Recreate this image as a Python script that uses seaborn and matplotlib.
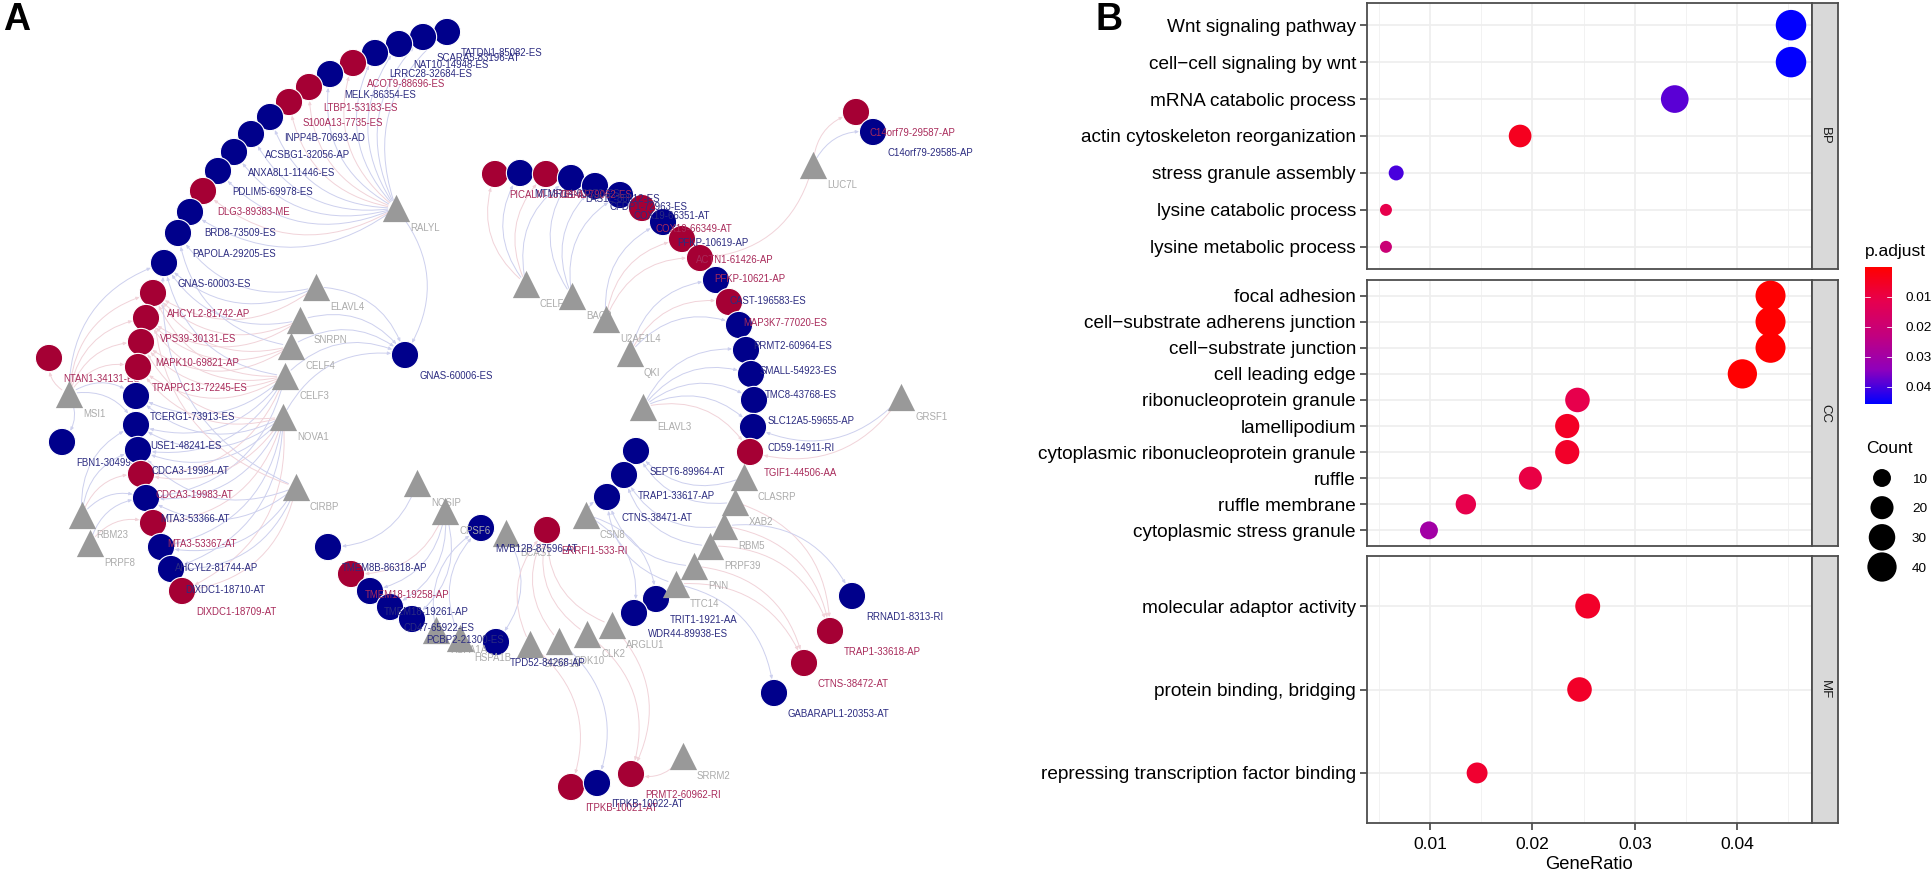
"""Splicing factor network (A) and GO enrichment dot plot (B)."""

import numpy as np
import pandas as pd
import seaborn as sns
import matplotlib.pyplot as plt
from matplotlib.cm import ScalarMappable
from matplotlib.colors import LinearSegmentedColormap, Normalize
from matplotlib.patches import FancyArrowPatch

# ---- panel A: splicing events (layout)
event_names = [
    "TATDN1-85082-ES", "SCARA5-83196-AT", "NAT10-14948-ES", "LRRC28-32684-ES", "ACOT9-88696-ES",
    "MELK-86354-ES", "LTBP1-53183-ES", "S100A13-7735-ES", "INPP4B-70693-AD", "ACSBG1-32056-AP",
    "ANXA8L1-11446-ES", "PDLIM5-69978-ES", "DLG3-89383-ME", "BRD8-73509-ES", "PAPOLA-29205-ES",
    "GNAS-60003-ES", "AHCYL2-81742-AP", "VPS39-30131-ES", "MAPK10-69821-AP", "TRAPPC13-72245-ES",
    "TCERG1-73913-ES", "USE1-48241-ES", "CDCA3-19984-AT", "CDCA3-19983-AT", "MTA3-53366-AT",
    "MTA3-53367-AT", "AHCYL2-81744-AP", "DIXDC1-18710-AT", "DIXDC1-18709-AT", "NTAN1-34131-ES",
    "FBN1-30499-ES", "GNAS-60006-ES", "PICALM-18761-AP", "MTMR14-63272-ES", "DBNL-79062-ES",
    "LAS1L-88812-ES", "CFDP1-72963-ES", "COX19-66351-AT", "COX19-66349-AT", "PFKP-10619-AP",
    "ACTN1-61426-AP", "PFKP-10621-AP", "CAST-196583-ES", "MAP3K7-77020-ES", "PRMT2-60964-ES",
    "SMALL-54923-ES", "TMC8-43768-ES", "SLC12A5-59655-AP", "CD59-14911-RI", "TGIF1-44506-AA",
    "SEPT6-89964-AT", "TRAP1-33617-AP", "CTNS-38471-AT", "TRIT1-1921-AA", "WDR44-89938-ES",
    "RRNAD1-8313-RI", "TRAP1-33618-AP", "CTNS-38472-AT", "GABARAPL1-20353-AT", "TMEM8B-86318-AP",
    "TMEM18-19258-AP", "TMEM18-19261-AP", "CD47-65922-ES", "PCBP2-21300-ES", "MVB12B-87596-AT",
    "ERRFI1-533-RI", "TPD52-84268-AP", "ITPKB-10021-AT", "ITPKB-10022-AT", "PRMT2-60962-RI",
    "C14orf79-29587-AP", "C14orf79-29585-AP",
]
event_x = [
    447, 423, 399, 375, 353, 330, 309, 289, 270, 251, 234, 218, 203, 190, 178, 164, 153, 146, 141, 138,
    136, 136, 138, 141, 146, 153, 161, 171, 182, 49, 62, 405, 495, 520, 546, 571, 595, 620, 642, 663,
    682, 700, 716, 729, 739, 746, 751, 754, 753, 750, 636, 624, 607, 656, 634, 852, 830, 804, 774, 328,
    351, 370, 390, 412, 481, 547, 496, 571, 597, 631, 856, 873,
]
event_y = [
    32, 37, 44, 53, 63, 74, 87, 102, 117, 134, 152, 171, 191, 212, 233, 263, 293, 318, 342, 367,
    396, 425, 450, 474, 498, 523, 547, 569, 591, 358, 442, 355, 174, 173, 174, 178, 186, 195, 208, 222,
    239, 258, 280, 302, 325, 350, 374, 400, 427, 452, 451, 475, 497, 599, 613, 596, 631, 663, 693, 547,
    574, 591, 607, 619, 528, 530, 642, 787, 783, 774, 112, 132,
]
event_status = [
    "b", "b", "b", "b", "r", "b", "r", "r", "b", "b", "b", "b", "r", "b", "b", "b", "r", "r", "r", "r",
    "b", "b", "b", "r", "b", "r", "b", "b", "r", "r", "b", "b", "r", "b", "r", "b", "b", "b", "r", "b",
    "r", "r", "b", "r", "b", "b", "b", "b", "b", "r", "b", "b", "b", "b", "b", "b", "r", "r", "b", "b",
    "r", "b", "b", "b", "b", "r", "b", "r", "b", "r", "r", "b",
]
# these labels sit under the circles
behind_nodes = ["NTAN1-34131-ES", "FBN1-30499-ES"]

# ---- panel A: splicing factors
factor_names = [
    "RALYL", "ELAVL4", "SNRPN", "CELF4", "CELF3", "NOVA1", "CIRBP", "MSI1", "RBM23", "PRPF8",
    "CELF1", "BAG2", "U2AF1L4", "QKI", "ELAVL3", "GRSF1", "LUC7L", "CLASRP", "XAB2", "RBM5",
    "PRPF39", "PNN", "TTC14", "ARGLU1", "CSN8", "NOSIP", "CPSF6", "BCAS1", "HSPA1A", "HSPA1B",
    "SRSF10", "CDK10", "CLK2", "SRRM2",
]
factor_x = [
    396, 316, 300, 291, 285, 283, 296, 69, 82, 90, 526, 572, 606, 630, 643, 901, 813, 744, 735, 724,
    710, 694, 676, 612, 586, 417, 445, 506, 436, 460, 530, 559, 587, 683,
]
factor_y = [
    208, 287, 320, 346, 376, 417, 487, 394, 515, 543, 284, 296, 319, 353, 407, 397, 165, 477, 502, 526,
    546, 566, 584, 625, 515, 483, 511, 533, 630, 638, 644, 641, 634, 756,
]

# ---- panel A: edges
edges_ralyl = event_names[:14] + ["GNAS-60006-ES"]
edges_elavl4 = ["PAPOLA-29205-ES", "GNAS-60003-ES", "GNAS-60006-ES", "AHCYL2-81742-AP"]
edges_snrpn = ["GNAS-60006-ES", "AHCYL2-81742-AP", "VPS39-30131-ES", "GNAS-60003-ES"]
edges_celf4 = ["GNAS-60006-ES", "VPS39-30131-ES", "MAPK10-69821-AP", "PAPOLA-29205-ES", "AHCYL2-81742-AP"]
edges_celf3 = [
    "GNAS-60006-ES", "GNAS-60003-ES", "AHCYL2-81742-AP", "VPS39-30131-ES", "MAPK10-69821-AP",
    "TRAPPC13-72245-ES", "TCERG1-73913-ES", "USE1-48241-ES", "CDCA3-19984-AT", "CDCA3-19983-AT",
    "MTA3-53366-AT",
]
edges_nova1 = [
    "GNAS-60006-ES", "MAPK10-69821-AP", "TRAPPC13-72245-ES", "TCERG1-73913-ES", "USE1-48241-ES",
    "CDCA3-19984-AT", "CDCA3-19983-AT", "MTA3-53366-AT", "MTA3-53367-AT", "AHCYL2-81744-AP",
    "DIXDC1-18710-AT", "DIXDC1-18709-AT",
]
edges_cirbp = [
    "GNAS-60003-ES", "AHCYL2-81742-AP", "CDCA3-19984-AT", "MTA3-53366-AT", "AHCYL2-81744-AP",
    "DIXDC1-18710-AT", "DIXDC1-18709-AT",
]
edges_msi1 = [
    "NTAN1-34131-ES", "FBN1-30499-ES", "TRAPPC13-72245-ES", "TCERG1-73913-ES", "USE1-48241-ES",
    "AHCYL2-81742-AP", "VPS39-30131-ES", "MAPK10-69821-AP", "GNAS-60003-ES",
]
edges_rbm23 = ["USE1-48241-ES", "CDCA3-19983-AT", "MTA3-53366-AT", "CDCA3-19984-AT"]
edges_prpf8 = ["MTA3-53367-AT", "MTA3-53366-AT"]
edges_celf1 = ["PICALM-18761-AP", "MTMR14-63272-ES", "DBNL-79062-ES", "LAS1L-88812-ES"]
edges_bag2 = ["LAS1L-88812-ES", "CFDP1-72963-ES", "COX19-66351-AT"]
edges_u2af = ["PFKP-10619-AP", "ACTN1-61426-AP", "PFKP-10621-AP"]
edges_qki = ["CAST-196583-ES", "MAP3K7-77020-ES", "PRMT2-60964-ES"]
edges_elavl3 = ["SMALL-54923-ES", "TMC8-43768-ES", "SLC12A5-59655-AP", "CD59-14911-RI", "TGIF1-44506-AA"]
edges_grsf1 = ["CD59-14911-RI", "TGIF1-44506-AA"]
edges_luc7l = ["C14orf79-29587-AP", "C14orf79-29585-AP", "PFKP-10621-AP"]
edges_clasrp = ["SEPT6-89964-AT"]
edges_xab2 = ["SEPT6-89964-AT", "TRAP1-33618-AP"]
edges_rbm5 = ["TRAP1-33617-AP", "RRNAD1-8313-RI", "TRAP1-33618-AP"]
edges_prpf39 = ["TRAP1-33617-AP", "TRAP1-33618-AP"]
edges_pnn = ["CTNS-38471-AT", "CTNS-38472-AT"]
edges_ttc14 = ["CTNS-38471-AT", "CTNS-38472-AT", "GABARAPL1-20353-AT"]
edges_csn8 = ["TRIT1-1921-AA", "WDR44-89938-ES", "CTNS-38471-AT"]
edges_nosip = ["TMEM8B-86318-AP"]
edges_cpsf6 = ["TMEM18-19258-AP", "TMEM18-19261-AP", "CD47-65922-ES", "PCBP2-21300-ES"]
edges_bcas1 = ["TPD52-84268-AP"]
edges_hspa1a = ["MVB12B-87596-AT"]
edges_hspa1b = ["MVB12B-87596-AT"]
edges_srsf10 = ["ERRFI1-533-RI", "ITPKB-10021-AT"]
edges_cdk10 = ["ERRFI1-533-RI", "ITPKB-10022-AT"]
edges_clk2 = ["ERRFI1-533-RI", "PRMT2-60962-RI"]
edges_arglu1 = ["ERRFI1-533-RI", "PRMT2-60962-RI"]
edges_srrm2 = ["PRMT2-60962-RI"]

# ---- panel B: enrichment
bp_terms = [
    "Wnt signaling pathway", "cell\u2212cell signaling by wnt", "mRNA catabolic process",
    "actin cytoskeleton reorganization", "stress granule assembly", "lysine catabolic process",
    "lysine metabolic process",
]
bp_ratio = [0.04525, 0.04525, 0.0339, 0.0188, 0.0067, 0.0057, 0.0057]
bp_padj = [0.0455, 0.0455, 0.0385, 0.0045, 0.0400, 0.0110, 0.0205]
bp_count = [45, 45, 34, 19, 7, 6, 6]

cc_terms = [
    "focal adhesion", "cell\u2212substrate adherens junction", "cell\u2212substrate junction",
    "cell leading edge", "ribonucleoprotein granule", "lamellipodium",
    "cytoplasmic ribonucleoprotein granule", "ruffle", "ruffle membrane", "cytoplasmic stress granule",
]
cc_ratio = [0.04325, 0.04325, 0.04325, 0.0405, 0.0244, 0.0234, 0.0234, 0.0198, 0.0135, 0.0099]
cc_padj = [0.0003, 0.0003, 0.0003, 0.0003, 0.0110, 0.0055, 0.0060, 0.0100, 0.0110, 0.0300]
cc_count = [43, 43, 43, 40, 24, 23, 23, 20, 14, 10]

mf_terms = ["molecular adaptor activity", "protein binding, bridging", "repressing transcription factor binding"]
mf_ratio = [0.0254, 0.0246, 0.0146]
mf_padj = [0.0060, 0.0060, 0.0070]
mf_count = [25, 24, 15]

x_ticks = [0.01, 0.02, 0.03, 0.04]
padj_ticks = [0.01, 0.02, 0.03, 0.04]
count_ticks = [10, 20, 30, 40]

FIG_W, FIG_H = 1932, 871
NODE_BLUE = "#00008B"
NODE_RED = "#A50034"
TEXT_BLUE = "#2B2B80"
TEXT_RED = "#A82A5A"
TEXT_GREY = "#ABABAB"
EDGE_BLUE = "#CDD0EE"
EDGE_PINK = "#F1D3D9"
NODE_SIZE = 385

sns.set_theme(style="white")
plt.rcParams["font.family"] = ["Liberation Sans", "DejaVu Sans"]

padj_cmap = LinearSegmentedColormap.from_list(
    "padj", ["#FF0000", "#E6004F", "#C2007F", "#8F00BC", "#0000FF"]
)
padj_norm = (0.0, 0.0458)


def axes_px(fig, left, top, right, bottom, **kwargs):
    """Add axes from pixel edges, top-left origin."""
    return fig.add_axes(
        [left / FIG_W, 1 - bottom / FIG_H, (right - left) / FIG_W, (bottom - top) / FIG_H], **kwargs
    )


def count_size(count):
    """Marker area in pt^2 for a count, area-scaled like scale_size."""
    diameter_px = 12 + 18.5 * np.sqrt(max(count - 6, 0) / 39)
    return (diameter_px * 0.72) ** 2


fig = plt.figure(figsize=(FIG_W / 100, FIG_H / 100), dpi=100, facecolor="white")

# ---- panel A
ax_net = axes_px(fig, 0, 0, FIG_W, FIG_H)
ax_net.set_xlim(0, FIG_W)
ax_net.set_ylim(FIG_H, 0)
ax_net.axis("off")

events = pd.DataFrame({"name": event_names, "x": event_x, "y": event_y, "status": event_status})
factors = pd.DataFrame({"name": factor_names, "x": factor_x, "y": factor_y})
event_pos = events.set_index("name")
factor_pos = factors.set_index("name")

edge_table = {
    "RALYL": edges_ralyl, "ELAVL4": edges_elavl4, "SNRPN": edges_snrpn, "CELF4": edges_celf4,
    "CELF3": edges_celf3, "NOVA1": edges_nova1, "CIRBP": edges_cirbp, "MSI1": edges_msi1,
    "RBM23": edges_rbm23, "PRPF8": edges_prpf8, "CELF1": edges_celf1, "BAG2": edges_bag2,
    "U2AF1L4": edges_u2af, "QKI": edges_qki, "ELAVL3": edges_elavl3, "GRSF1": edges_grsf1,
    "LUC7L": edges_luc7l, "CLASRP": edges_clasrp, "XAB2": edges_xab2, "RBM5": edges_rbm5,
    "PRPF39": edges_prpf39, "PNN": edges_pnn, "TTC14": edges_ttc14, "ARGLU1": edges_arglu1,
    "CSN8": edges_csn8, "NOSIP": edges_nosip, "CPSF6": edges_cpsf6, "BCAS1": edges_bcas1,
    "HSPA1A": edges_hspa1a, "HSPA1B": edges_hspa1b, "SRSF10": edges_srsf10, "CDK10": edges_cdk10,
    "CLK2": edges_clk2, "SRRM2": edges_srrm2,
}
for factor, targets in edge_table.items():
    for target in targets:
        status = event_pos.loc[target, "status"]
        ax_net.add_patch(FancyArrowPatch(
            (factor_pos.loc[factor, "x"], factor_pos.loc[factor, "y"]),
            (event_pos.loc[target, "x"], event_pos.loc[target, "y"]),
            connectionstyle="arc3,rad=-0.36",
            arrowstyle="-|>,head_length=2.0,head_width=0.9",
            shrinkA=6, shrinkB=10,
            color=EDGE_BLUE if status == "b" else EDGE_PINK,
            linewidth=0.7, zorder=2,
        ))

sns.scatterplot(
    data=events, x="x", y="y", hue="status", palette={"b": NODE_BLUE, "r": NODE_RED},
    s=NODE_SIZE, edgecolor="white", linewidth=0.8, legend=False, ax=ax_net, zorder=3,
)
sns.scatterplot(
    data=factors, x="x", y="y", color="#999999", marker="^",
    s=NODE_SIZE, linewidth=0, legend=False, ax=ax_net, zorder=5,
)
ax_net.set_xlim(0, FIG_W)
ax_net.set_ylim(FIG_H, 0)

for row in events.itertuples():
    ax_net.text(
        row.x + 14, row.y + 21, row.name, fontsize=6.95, va="center", ha="left",
        color=TEXT_BLUE if row.status == "b" else TEXT_RED,
        zorder=2.5 if row.name in behind_nodes else 6,
    )
for row in factors.itertuples():
    ax_net.text(
        row.x + 14, row.y + 20, row.name, fontsize=6.95, va="center", ha="left",
        color=TEXT_GREY, zorder=4,
    )

fig.text(3 / FIG_W, 1 - 30 / FIG_H, "A", fontsize=27, fontweight="bold", color="black", ha="left", va="baseline")
fig.text(1096 / FIG_W, 1 - 30 / FIG_H, "B", fontsize=27, fontweight="bold", color="black", ha="left", va="baseline")

# ---- panel B
facets = [
    ("BP", bp_terms, bp_ratio, bp_padj, bp_count, 3, 269),
    ("CC", cc_terms, cc_ratio, cc_padj, cc_count, 280, 546),
    ("MF", mf_terms, mf_ratio, mf_padj, mf_count, 556, 823),
]
all_counts = bp_count + cc_count + mf_count + count_ticks
size_map = {c: count_size(c) for c in set(all_counts)}

for name, terms, ratio, padj, count, top, bottom in facets:
    ax = axes_px(fig, 1367, top, 1812, bottom)
    df = pd.DataFrame({"term": terms, "GeneRatio": ratio, "p.adjust": padj, "Count": count})
    sns.scatterplot(
        data=df, x="GeneRatio", y="term", hue="p.adjust", size="Count",
        palette=padj_cmap, hue_norm=padj_norm, sizes=size_map,
        linewidth=0, legend=False, ax=ax, zorder=3, clip_on=False,
    )
    ax.set_xlim(0.00385, 0.0473)
    ax.set_ylim(len(terms) - 1 + 0.6, -0.6)
    ax.set_xticks(x_ticks)
    ax.set_xticks([0.005, 0.015, 0.025, 0.035, 0.045], minor=True)
    ax.grid(True, which="major", color="#EEEEEE", linewidth=1.2)
    ax.grid(True, which="minor", axis="x", color="#F2F2F2", linewidth=0.7)
    ax.set_axisbelow(True)
    ax.set_xlabel("")
    ax.set_ylabel("")
    ax.tick_params(axis="y", which="major", left=True, length=5, width=1.1, color="#333333",
                   labelsize=13.65, labelcolor="black", pad=3)
    ax.tick_params(axis="x", which="minor", bottom=False)
    if name == "MF":
        ax.tick_params(axis="x", which="major", bottom=True, length=5, width=1.1, color="#333333",
                       labelsize=12.6, labelcolor="black", pad=5)
        ax.set_xticklabels([f"{t:.2f}" for t in x_ticks])
        ax.set_xlabel("GeneRatio", fontsize=13.2, color="black", labelpad=3)
    else:
        ax.tick_params(axis="x", which="major", bottom=False, labelbottom=False)
    for spine in ax.spines.values():
        spine.set_color("#4D4D4D")
        spine.set_linewidth(1.3)

    strip = axes_px(fig, 1812, top, 1838, bottom, facecolor="#D9D9D9")
    strip.set_xticks([])
    strip.set_yticks([])
    for spine in strip.spines.values():
        spine.set_color("#4D4D4D")
        spine.set_linewidth(1.3)
    strip.text(0.5, 0.5, name, rotation=-90, ha="center", va="center", fontsize=9.5,
               color="#1A1A1A", transform=strip.transAxes)

# ---- colour legend
fig.text(1865 / FIG_W, 1 - 251 / FIG_H, "p.adjust", fontsize=12.5, color="black", ha="left", va="center")
cax = axes_px(fig, 1865, 267, 1892, 404)
cbar = fig.colorbar(ScalarMappable(Normalize(*padj_norm), padj_cmap), cax=cax)
cbar.ax.invert_yaxis()
cbar.outline.set_visible(False)
cbar.set_ticks(padj_ticks)
cbar.set_ticklabels([f"{t:.2f}" for t in padj_ticks])
cax.tick_params(length=0, labelsize=9.7, labelcolor="black", pad=10)
for t in padj_ticks:
    cax.plot([0, 0.2], [t, t], color="white", linewidth=0.6, transform=cax.get_yaxis_transform())
    cax.plot([0.8, 1], [t, t], color="white", linewidth=0.6, transform=cax.get_yaxis_transform())

# ---- size legend
fig.text(1866 / FIG_W, 1 - 448 / FIG_H, "Count", fontsize=12.5, color="black", ha="left", va="center")
lax = axes_px(fig, 1866, 463, 1898, 582)
sns.scatterplot(
    x=[0, 0, 0, 0], y=count_ticks, size=count_ticks, sizes=size_map,
    color="black", linewidth=0, legend=False, ax=lax, clip_on=False,
)
lax.set_xlim(-0.5, 0.5)
lax.set_ylim(10 + (582 - 478) / 2.967, 10 - (478 - 463) / 2.967)
lax.patch.set_alpha(0)
for spine in lax.spines.values():
    spine.set_visible(False)
lax.set_xticks([])
lax.yaxis.tick_right()
lax.set_yticks(count_ticks)
lax.set_yticklabels([str(c) for c in count_ticks])
lax.tick_params(axis="y", length=0, labelsize=9.7, labelcolor="black", pad=10)
lax.grid(False)

fig.savefig("out.png", dpi=100)
